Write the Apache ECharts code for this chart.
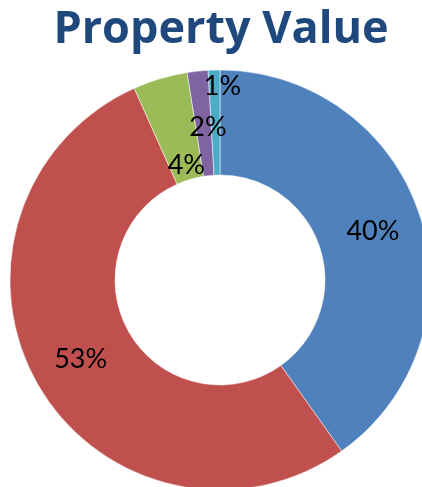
<!DOCTYPE html>
<html>
<head>
<meta charset="utf-8">
<script src="https://cdn.jsdelivr.net/npm/echarts@6/dist/echarts.min.js"></script>
<style>
  html, body { margin: 0; padding: 0; background: #fff; }
  #chart { width: 422px; height: 487px; }
</style>
</head>
<body>
<div id="chart"></div>
<script>
// chart data
var categories = ["Category 1", "Category 2", "Category 3", "Category 4", "Category 5"];
var shares = [40.2, 53.2, 4.2, 1.6, 0.9];
var colors = ["#4F81BD", "#C0504D", "#9BBB59", "#8064A2", "#4BACC6"];

// small slices: labels pushed apart like the original
var labelShift = { 2: [12, 39], 3: [5, 7], 4: [7, -33] };

var myChart = echarts.init(document.getElementById("chart"));

var pieData = categories.map(function(name, i) {
    return { name: name, value: shares[i], itemStyle: { color: colors[i] } };
});

var option = {
    animation: false,
    title: {
        text: "Property Value",
        left: 216,
        textAlign: "center",
        top: 3,
        textStyle: {
            fontFamily: "Open Sans",
            fontWeight: "bold",
            fontSize: 45,
            color: "#1F497D"
        }
    },
    series: [{
        type: "pie",
        center: [220, 280],
        radius: [105, 210],
        startAngle: 90,
        clockwise: true,
        data: pieData,
        itemStyle: { borderColor: "#fff", borderWidth: 0.5 },
        label: {
            show: true,
            position: "inside",
            fontFamily: "Lato",
            fontSize: 27,
            color: "#000",
            formatter: function(p) {
                return Math.round(p.percent) + "%";
            }
        },
        labelLayout: function(p) {
            var s = labelShift[p.dataIndex];
            if (s) return { dx: s[0], dy: s[1] };
            return {};
        },
        labelLine: { show: false },
        emphasis: { disabled: true }
    }]
};
myChart.setOption(option);
</script>
</body>
</html>
